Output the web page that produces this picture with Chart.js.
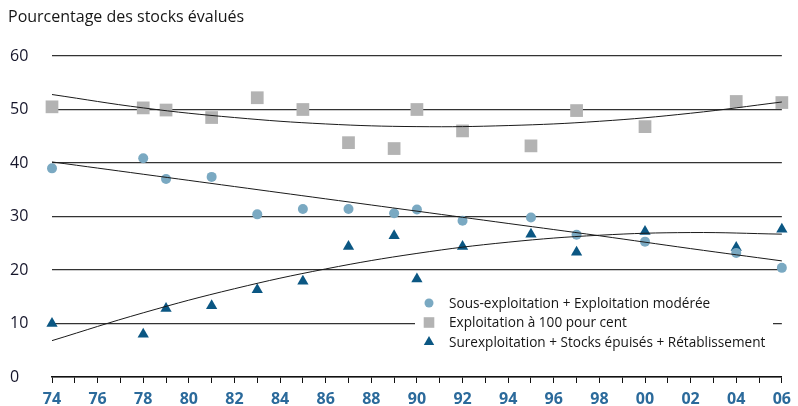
<!DOCTYPE html>
<html>
<head>
<meta charset="utf-8">
<script src="https://cdn.jsdelivr.net/npm/chart.js@4.4.1/dist/chart.umd.min.js"></script>
<style>
  body { margin: 0; background: #fff; }
  #wrap { width: 798px; height: 406px; }
</style>
</head>
<body>
<div id="wrap"><canvas id="chart"></canvas></div>
<script>
// années des relevés (mêmes pour les trois séries)
const years = [1974, 1978, 1979, 1981, 1983, 1985, 1987, 1989, 1990, 1992, 1995, 1997, 2000, 2004, 2006];
const sousExploitation = [39.0, 40.9, 37.0, 37.4, 30.4, 31.4, 31.4, 30.6, 31.3, 29.2, 29.8, 26.6, 25.3, 23.2, 20.4];
const exploitation100 = [50.5, 50.3, 49.9, 48.5, 52.2, 50.0, 43.8, 42.7, 50.0, 46.0, 43.2, 49.8, 46.8, 51.5, 51.3];
const surexploitation = [10.0, 8.0, 12.8, 13.3, 16.3, 17.9, 24.4, 26.4, 18.3, 24.4, 26.7, 23.3, 27.2, 24.2, 27.6];

// courbes de tendance
const trendYears = [1974, 1978, 1982, 1986, 1990, 1994, 1998, 2002, 2006];
const trendSous = [40.2, 37.9, 35.6, 33.3, 31.0, 28.7, 26.4, 24.0, 21.7];
const trendExploit = [52.8, 50.3, 48.5, 47.3, 46.8, 47.0, 47.8, 49.3, 51.4];
const trendSur = [6.8, 12.0, 16.5, 20.2, 23.1, 25.2, 26.5, 27.0, 26.7];

const yTicks = [0, 10, 20, 30, 40, 50, 60];

const titre = 'Pourcentage des stocks évalués';
const legendLabels = [
  'Sous-exploitation + Exploitation modérée',
  'Exploitation à 100 pour cent',
  'Surexploitation + Stocks épuisés + Rétablissement'
];

const FONT = "'Open Sans', sans-serif";

const points = (xs, ys) => xs.map((x, i) => ({ x: x, y: ys[i] }));

const markerDataset = (label, values, style, radius, color) => ({
  type: 'scatter',
  label: label,
  data: points(years, values),
  pointStyle: style,
  pointRadius: radius,
  pointHoverRadius: radius,
  backgroundColor: color,
  borderColor: color,
  borderWidth: 0,
  clip: false,
  order: 1
});

const trendDataset = (values) => ({
  type: 'line',
  data: points(trendYears, values),
  borderColor: '#1a1a1a',
  borderWidth: 1,
  pointRadius: 0,
  tension: 0.4,
  fill: false,
  clip: false,
  order: 0
});

/*
* Titre en haut à gauche et légende posée dans la zone du graphique.
*/
const decorPlugin = {
  id: 'decor',
  afterDraw(chart) {
    const ctx = chart.ctx;
    ctx.save();
    ctx.fillStyle = '#161616';
    ctx.font = '16px ' + FONT;
    ctx.textBaseline = 'middle';
    ctx.textAlign = 'left';
    ctx.fillText(titre, 8, 17);

    // fond blanc qui coupe la ligne de grille
    ctx.fillStyle = '#fff';
    ctx.fillRect(415, 293, 358, 58);

    const rows = [303, 322.5, 342];
    const sizes = [4.5, 7.5, 6];
    ctx.font = '13.6px ' + FONT;
    for (let i = 0; i < 3; i++) {
      const ds = chart.data.datasets[i];
      ctx.fillStyle = ds.backgroundColor;
      ctx.strokeStyle = ds.backgroundColor;
      Chart.helpers.drawPoint(ctx, { pointStyle: ds.pointStyle, radius: sizes[i], rotation: 0, borderWidth: 0 }, 429, rows[i]);
      ctx.fillStyle = '#161616';
      ctx.fillText(legendLabels[i], 449, rows[i] + 1);
    }
    ctx.restore();
  }
};

const ctx = document.getElementById('chart');

new Chart(ctx, {
  data: {
    datasets: [
      markerDataset(legendLabels[0], sousExploitation, 'circle', 5, '#7aa9c2'),
      markerDataset(legendLabels[1], exploitation100, 'rect', 9, '#b3b3b3'),
      markerDataset(legendLabels[2], surexploitation, 'triangle', 6.5, '#0b5783'),
      trendDataset(trendSous),
      trendDataset(trendExploit),
      trendDataset(trendSur)
    ]
  },
  options: {
    responsive: true,
    maintainAspectRatio: false,
    animation: false,
    devicePixelRatio: 1,
    layout: { padding: { left: 10, top: 56, right: 10, bottom: 0 } },
    plugins: {
      legend: { display: false },
      tooltip: { enabled: false },
      title: { display: false }
    },
    scales: {
      x: {
        type: 'linear',
        min: years[0],
        max: years[years.length - 1],
        afterFit: (scale) => { scale.height = 29; },
        ticks: {
          stepSize: 1,
          autoSkip: false,
          maxRotation: 0,
          padding: 7,
          color: '#2b6a9b',
          font: { family: FONT, size: 16, weight: 'bold' },
          callback: (v) => v % 2 === 0 ? String(v).slice(2) : ''
        },
        grid: { drawOnChartArea: false, drawTicks: true, tickLength: 6, color: '#111', lineWidth: 1 },
        border: { display: true, color: '#111', width: 1.5 }
      },
      y: {
        min: yTicks[0],
        max: yTicks[yTicks.length - 1],
        afterFit: (scale) => { scale.width = 42; },
        afterBuildTicks: (scale) => { scale.ticks = yTicks.map(v => ({ value: v })); },
        ticks: {
          crossAlign: 'far',
          color: '#15152a',
          font: { family: FONT, size: 16 }
        },
        grid: { drawTicks: false, color: '#333', lineWidth: 1.2 },
        border: { display: false }
      }
    }
  },
  plugins: [decorPlugin]
});
</script>
</body>
</html>
